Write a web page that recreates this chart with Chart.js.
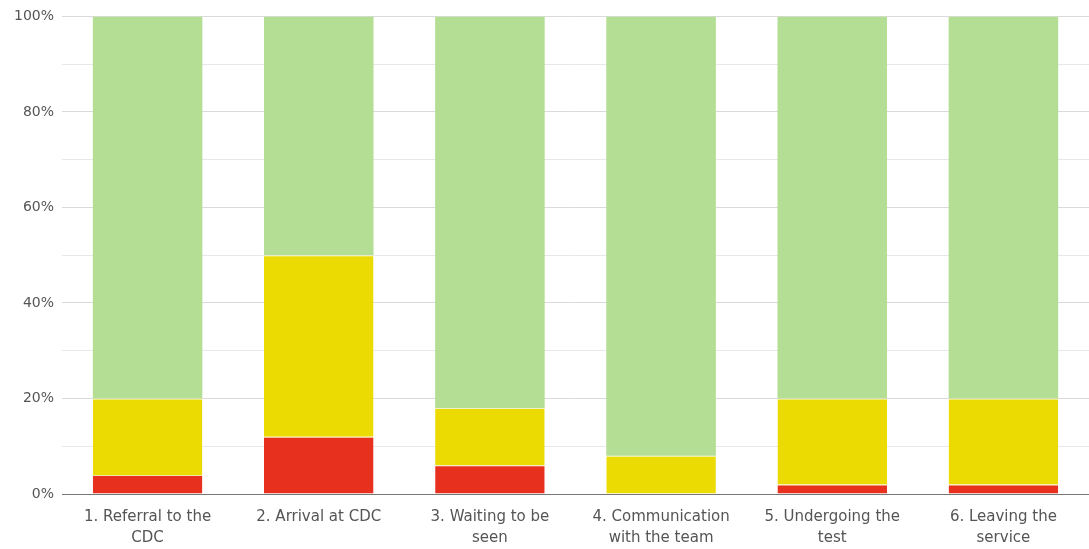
<!DOCTYPE html>
<html>
<head>
<meta charset="utf-8">
<script src="https://cdn.jsdelivr.net/npm/chart.js@4"></script>
<style>
  html, body { margin: 0; padding: 0; background: #fff; }
  #wrap { width: 1089px; height: 549px; position: relative; }
</style>
</head>
<body>
<div id="wrap"><canvas id="stageChart"></canvas></div>
<script>
const stages = [
  ['1. Referral to the', 'CDC'],
  '2. Arrival at CDC',
  ['3. Waiting to be', 'seen'],
  ['4. Communication', 'with the team'],
  ['5. Undergoing the', 'test'],
  ['6. Leaving the', 'service']
];
const redShare = [4, 12, 6, 0, 2, 2];
const yellowShare = [16, 38, 12, 8, 18, 18];
const greenShare = [80, 50, 82, 92, 80, 80];

// thin pale seam on top of the lower two segments
const seam = { top: 1, right: 0, bottom: 0, left: 0 };

function createStageChart() {
  const ctx = document.getElementById('stageChart');

  new Chart(ctx, {
    type: 'bar',
    data: {
      labels: stages,
      datasets: [
        { label: 'Red', data: redShare, backgroundColor: '#e8301f',
          borderWidth: seam, borderColor: '#f6e7a0', borderSkipped: false },
        { label: 'Yellow', data: yellowShare, backgroundColor: '#ecdb02',
          borderWidth: seam, borderColor: '#eef3c4', borderSkipped: false },
        { label: 'Green', data: greenShare, backgroundColor: '#b4de93' }
      ]
    },
    options: {
      responsive: true,
      maintainAspectRatio: false,
      animation: false,
      layout: { padding: { top: 9, right: 0, left: 0, bottom: 0 } },
      datasets: {
        bar: { barPercentage: 0.8, categoryPercentage: 0.8 }
      },
      scales: {
        x: {
          stacked: true,
          grid: { display: false },
          border: { display: true, color: '#777', width: 1 },
          ticks: {
            color: '#555',
            font: { family: 'DejaVu Sans', size: 15, lineHeight: 1.4 },
            padding: 5,
            maxRotation: 0
          },
          afterFit: function(scale) { scale.height = 55; }
        },
        y: {
          stacked: true,
          min: 0,
          max: 100,
          border: { display: false },
          grid: {
            drawTicks: false,
            color: function(c) {
              return c.tick.value % 20 === 0 ? '#dadada' : '#e8e8e8';
            }
          },
          ticks: {
            stepSize: 10,
            color: '#555',
            font: { family: 'DejaVu Sans', size: 14 },
            padding: 8,
            callback: function(v) { return v % 20 === 0 ? v + '%' : ''; }
          },
          afterFit: function(scale) { scale.width = 62; }
        }
      },
      plugins: {
        legend: { display: false },
        tooltip: { enabled: false }
      }
    }
  });
}

createStageChart();
</script>
</body>
</html>
